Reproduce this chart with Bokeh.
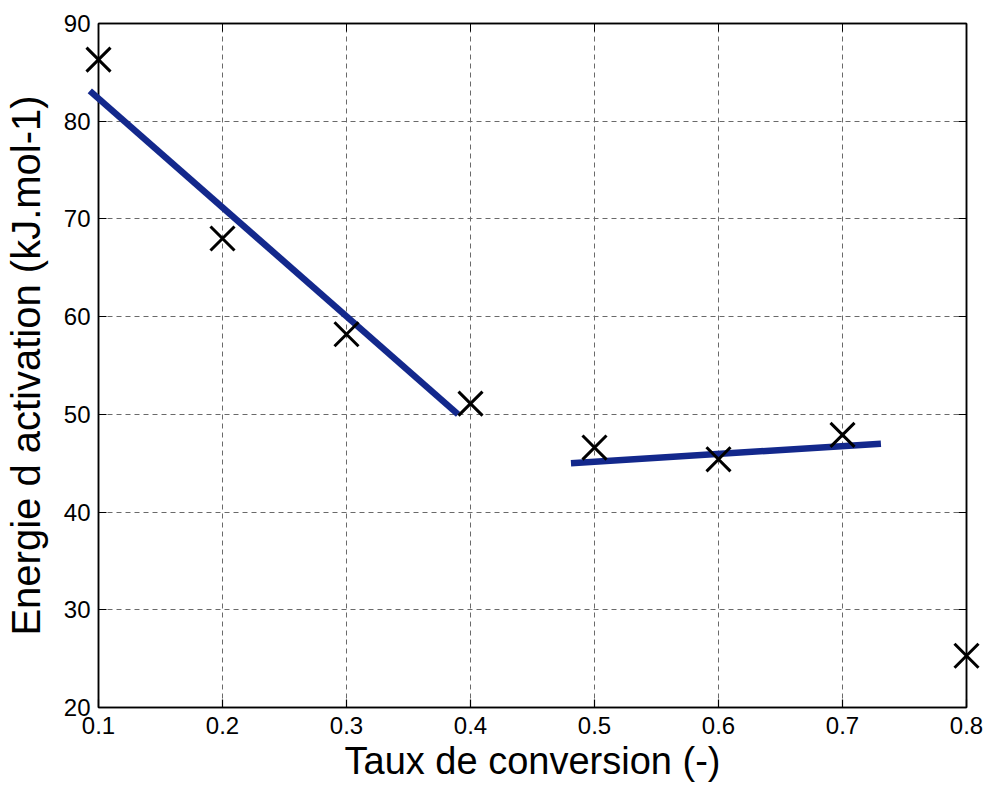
from bokeh.plotting import figure
from bokeh.models import Range1d, FixedTicker, LinearAxis, CustomJSTickFormatter
from bokeh.embed import file_html
from bokeh.resources import INLINE

# Data
conv = [0.1, 0.2, 0.3, 0.4, 0.5, 0.6, 0.7, 0.8]
energy = [86.3, 68.0, 58.2, 51.1, 46.6, 45.4, 47.9, 25.3]

fit1_x = [0.093, 0.390]
fit1_y = [83.1, 50.0]
fit2_x = [0.481, 0.731]
fit2_y = [45.0, 47.0]

x_ticks = [0.1, 0.2, 0.3, 0.4, 0.5, 0.6, 0.7, 0.8]
y_ticks = [20, 30, 40, 50, 60, 70, 80, 90]

FONT = "Liberation Sans"

p = figure(width=989, height=788, output_backend="svg", toolbar_location=None,
           x_range=Range1d(0.1, 0.8), y_range=Range1d(20, 90),
           min_border_left=98, min_border_right=23, min_border_top=23, min_border_bottom=81)
p.outline_line_color = "black"
p.outline_line_width = 1.5
p.background_fill_color = "white"
p.border_fill_color = "white"

for ax in (p.xaxis[0], p.yaxis[0]):
    ax.major_tick_in = 8
    ax.major_tick_out = 0
    ax.minor_tick_in = 0
    ax.minor_tick_out = 0
    ax.major_label_text_font = FONT
    ax.major_label_text_font_size = "24px"
    ax.major_label_text_color = "black"
    ax.axis_label_text_font = FONT
    ax.axis_label_text_font_style = "normal"
    ax.axis_label_text_color = "black"
    ax.axis_line_width = 1.5
    ax.major_tick_line_width = 1.2

p.xaxis.ticker = FixedTicker(ticks=x_ticks)
p.yaxis.ticker = FixedTicker(ticks=y_ticks)
p.xaxis.axis_label = "Taux de conversion (-)"
p.yaxis.axis_label = "Energie d activation (kJ.mol-1)"
p.xaxis.axis_label_text_font_size = "38px"
p.yaxis.axis_label_text_font_size = "40px"
p.xaxis.major_label_standoff = 9
p.yaxis.major_label_standoff = 8
p.xaxis.axis_label_standoff = 3
p.yaxis.axis_label_standoff = 13

# box ticks on top and right (no labels)
blank = CustomJSTickFormatter(code="return ''")
top = LinearAxis(ticker=FixedTicker(ticks=x_ticks), formatter=blank,
                 major_tick_in=8, major_tick_out=0, minor_tick_in=0, minor_tick_out=0,
                 axis_line_width=1.5, major_label_standoff=0)
right = LinearAxis(ticker=FixedTicker(ticks=y_ticks), formatter=blank,
                   major_tick_in=8, major_tick_out=0, minor_tick_in=0, minor_tick_out=0,
                   axis_line_width=1.5, major_label_standoff=0)
p.add_layout(top, "above")
p.add_layout(right, "right")

p.xgrid.ticker = FixedTicker(ticks=x_ticks)
p.ygrid.ticker = FixedTicker(ticks=y_ticks)
for g in (p.xgrid[0], p.ygrid[0]):
    g.grid_line_color = "#6a6a6a"
    g.grid_line_dash = "5 4"
    g.grid_line_width = 1

l1 = p.line(fit1_x, fit1_y, line_color="#13288c", line_width=6.5)
l2 = p.line(fit2_x, fit2_y, line_color="#13288c", line_width=6.5)
sc = p.scatter(conv, energy, marker="x", size=34, line_color="black", line_width=3)
for r in (l1, l2, sc):
    r.level = "overlay"

open("out.html", "w").write(file_html(p, INLINE))
